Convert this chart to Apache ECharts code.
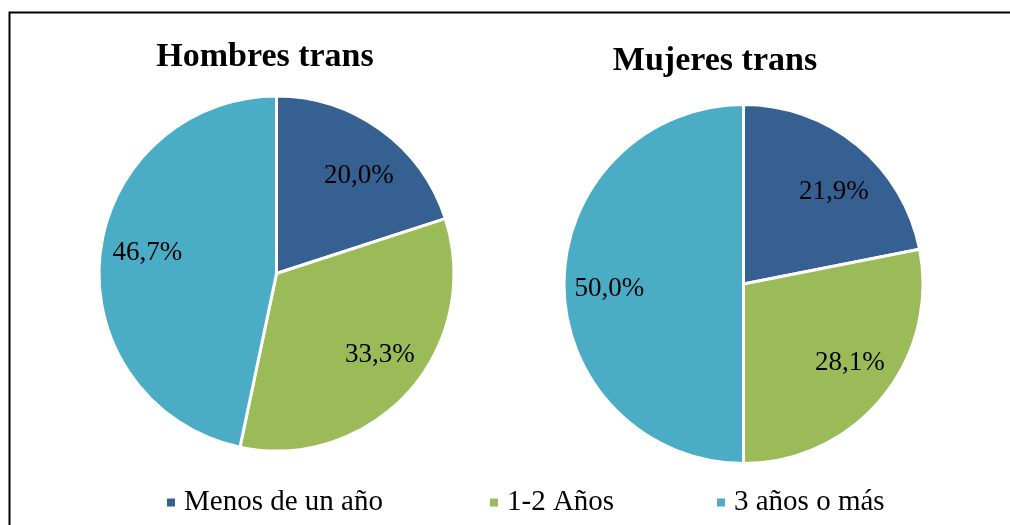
<!DOCTYPE html>
<html>
<head>
<meta charset="utf-8">
<script src="https://cdn.jsdelivr.net/npm/echarts@6/dist/echarts.min.js"></script>
<style>
html,body{margin:0;padding:0;background:#fff;}
#chart{width:1010px;height:525px;}
</style>
</head>
<body>
<div id="chart"></div>
<script>
const categories = ['Menos de un año', '1-2 Años', '3 años o más'];
const colors = ['#366092', '#9BBB59', '#4BACC6'];
const titles = ['Hombres trans', 'Mujeres trans'];
const hombresValues = [20.0, 33.3, 46.7];
const mujeresValues = [21.9, 28.1, 50.0];

// small per-label nudges (style only) to mimic the original label placement
const hombresLabelNudge = [[6, 7], [7, -5], [0, -7]];
const mujeresLabelNudge = [[7, 9], [5, -4], [-3, 5]];

const serif = '"Liberation Serif", "DejaVu Serif", serif';

function toData(vals) {
  return categories.map((c, i) => ({ name: c, value: vals[i], itemStyle: { color: colors[i] } }));
}
function fmt(p) { return p.value.toFixed(1).replace('.', ',') + '%'; }

function pieSeries(vals, center, R, nudge) {
  return [
    {
      type: 'pie',
      center: center,
      radius: [0, R + 1.5],
      startAngle: 90,
      clockwise: true,
      avoidLabelOverlap: false,
      label: { show: false },
      labelLine: { show: false },
      itemStyle: { borderColor: '#ffffff', borderWidth: 3 },
      emphasis: { disabled: true },
      animation: false,
      data: toData(vals)
    },
    {
      type: 'pie',
      center: center,
      radius: [R * 0.44, R],
      startAngle: 90,
      clockwise: true,
      silent: true,
      avoidLabelOverlap: false,
      legendHoverLink: false,
      itemStyle: { color: 'rgba(0,0,0,0)', borderWidth: 0 },
      label: {
        show: true,
        position: 'inside',
        formatter: fmt,
        fontFamily: serif,
        fontSize: 27,
        color: '#000000'
      },
      labelLayout: function (p) {
        const n = nudge[p.dataIndex] || [0, 0];
        return { dx: n[0], dy: n[1] };
      },
      labelLine: { show: false },
      emphasis: { disabled: true },
      animation: false,
      data: categories.map((c, i) => ({ name: c, value: vals[i], itemStyle: { color: 'rgba(0,0,0,0)' } }))
    }
  ];
}

const legendX = [165, 488, 715];
const legends = categories.map((c, i) => ({
  show: true,
  left: legendX[i],
  top: 488,
  padding: 0,
  orient: 'horizontal',
  icon: 'rect',
  itemWidth: 10,
  itemHeight: 10,
  itemGap: 0,
  selectedMode: false,
  textStyle: { fontFamily: serif, fontSize: 29, color: '#000000', padding: [0, 0, 0, 3] },
  data: [{ name: c, itemStyle: { color: colors[i] } }]
}));

const chart = echarts.init(document.getElementById('chart'), null, { renderer: 'canvas' });
chart.setOption({
  backgroundColor: '#ffffff',
  animation: false,
  legend: legends,
  graphic: [
    {
      type: 'polyline',
      shape: { points: [[9.5, 525], [9.5, 12.5], [1010, 12.5]] },
      style: { stroke: '#000000', lineWidth: 2, fill: null },
      silent: true
    },
    {
      type: 'text',
      x: 265, y: 57,
      style: { text: titles[0], fontFamily: serif, fontWeight: 'bold', fontSize: 34, fill: '#000000', align: 'center', verticalAlign: 'middle' },
      silent: true
    },
    {
      type: 'text',
      x: 715, y: 61,
      style: { text: titles[1], fontFamily: serif, fontWeight: 'bold', fontSize: 34, fill: '#000000', align: 'center', verticalAlign: 'middle' },
      silent: true
    }
  ],
  series: [].concat(
    pieSeries(hombresValues, [276.5, 273.5], 176, hombresLabelNudge),
    pieSeries(mujeresValues, [743.5, 284], 178, mujeresLabelNudge)
  )
});
</script>
</body>
</html>
